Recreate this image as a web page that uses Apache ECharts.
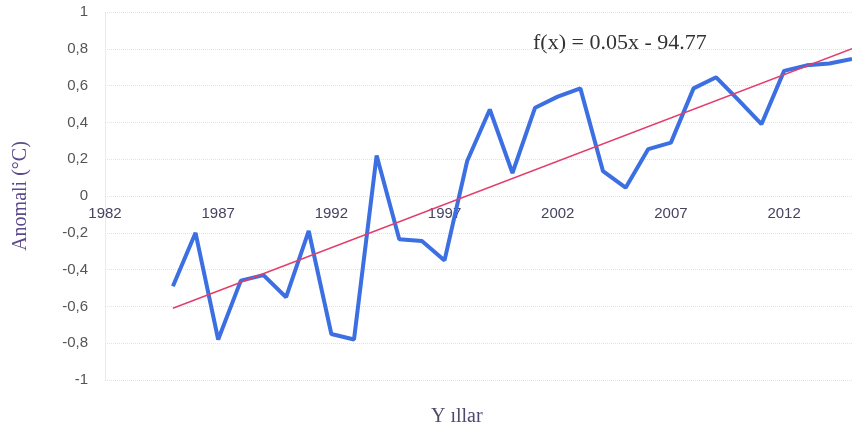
<!DOCTYPE html>
<html>
<head>
<meta charset="utf-8">
<script src="https://cdn.jsdelivr.net/npm/echarts@6/dist/echarts.min.js"></script>
<style>
  html, body { margin: 0; padding: 0; background: #fff; }
  #chart { width: 852px; height: 432px; }
</style>
</head>
<body>
<div id="chart"></div>
<script>
// Yıllık sıcaklık anomalileri (okunan değerler)
const years = [1985, 1986, 1987, 1988, 1989, 1990, 1991, 1992, 1993, 1994,
  1995, 1996, 1997, 1998, 1999, 2000, 2001, 2002, 2003, 2004,
  2005, 2006, 2007, 2008, 2009, 2010, 2011, 2012, 2013, 2014, 2015];
const anomalies = [-0.49, -0.20, -0.78, -0.46, -0.43, -0.55, -0.19, -0.75, -0.78, 0.22,
  -0.235, -0.245, -0.35, 0.19, 0.47, 0.125, 0.48, 0.54, 0.585, 0.135,
  0.045, 0.255, 0.29, 0.585, 0.645, 0.52, 0.39, 0.68, 0.71, 0.72, 0.745];
// Trend çizgisinin uç noktaları
const trendYears = [1985, 2015];
const trendValues = [-0.61, 0.80];
const equationText = 'f(x) = 0.05x - 94.77';

const chart = echarts.init(document.getElementById('chart'));

const option = {
  backgroundColor: '#fff',
  animation: false,
  grid: { left: 105, right: 0, top: 12, bottom: 52 },
  xAxis: {
    type: 'value',
    min: 1982,
    max: 2015,
    interval: 5,
    // eksen sıfır çizgisine taşınır (plot yüksekliğinin yarısı)
    offset: -184,
    axisLine: { show: false, onZero: false },
    axisTick: { show: false },
    splitLine: { show: false },
    axisLabel: {
      showMaxLabel: false,
      margin: 10,
      fontSize: 15,
      fontFamily: 'Liberation Sans',
      color: '#454360',
      formatter: v => String(v)
    }
  },
  yAxis: {
    type: 'value',
    min: -1,
    max: 1,
    interval: 0.2,
    name: 'Anomali (°C)',
    nameLocation: 'middle',
    nameGap: 74,
    nameRotate: 90,
    nameTextStyle: { fontFamily: 'Liberation Serif', fontSize: 20, color: '#5b4a8e' },
    axisLine: { show: true, lineStyle: { color: '#e6e6e6', type: 'dotted' } },
    axisTick: { show: false },
    splitLine: { lineStyle: { color: '#e2e2e2', type: 'dotted' } },
    axisLabel: {
      margin: 17,
      fontSize: 15,
      fontFamily: 'Liberation Sans',
      color: '#555',
      formatter: v => String(Math.round(v * 10) / 10).replace('.', ',')
    }
  },
  graphic: [
    {
      type: 'text', left: 533, top: 32,
      style: { text: equationText, fontFamily: 'Liberation Serif', fontSize: 22, fill: '#333' }
    },
    {
      type: 'text', left: 431, top: 407,
      style: { text: 'Y ıllar', fontFamily: 'Liberation Serif', fontSize: 20, fill: '#4d4a6e' }
    }
  ],
  series: [
    {
      name: 'Anomali',
      type: 'line',
      data: years.map((y, i) => [y, anomalies[i]]),
      showSymbol: false,
      lineStyle: { color: '#3b6fe2', width: 4 },
      z: 3
    },
    {
      name: 'Trend',
      type: 'line',
      data: trendYears.map((y, i) => [y, trendValues[i]]),
      showSymbol: false,
      lineStyle: { color: '#e33d6c', width: 1.5 },
      z: 4
    }
  ]
};

chart.setOption(option);
</script>
</body>
</html>
